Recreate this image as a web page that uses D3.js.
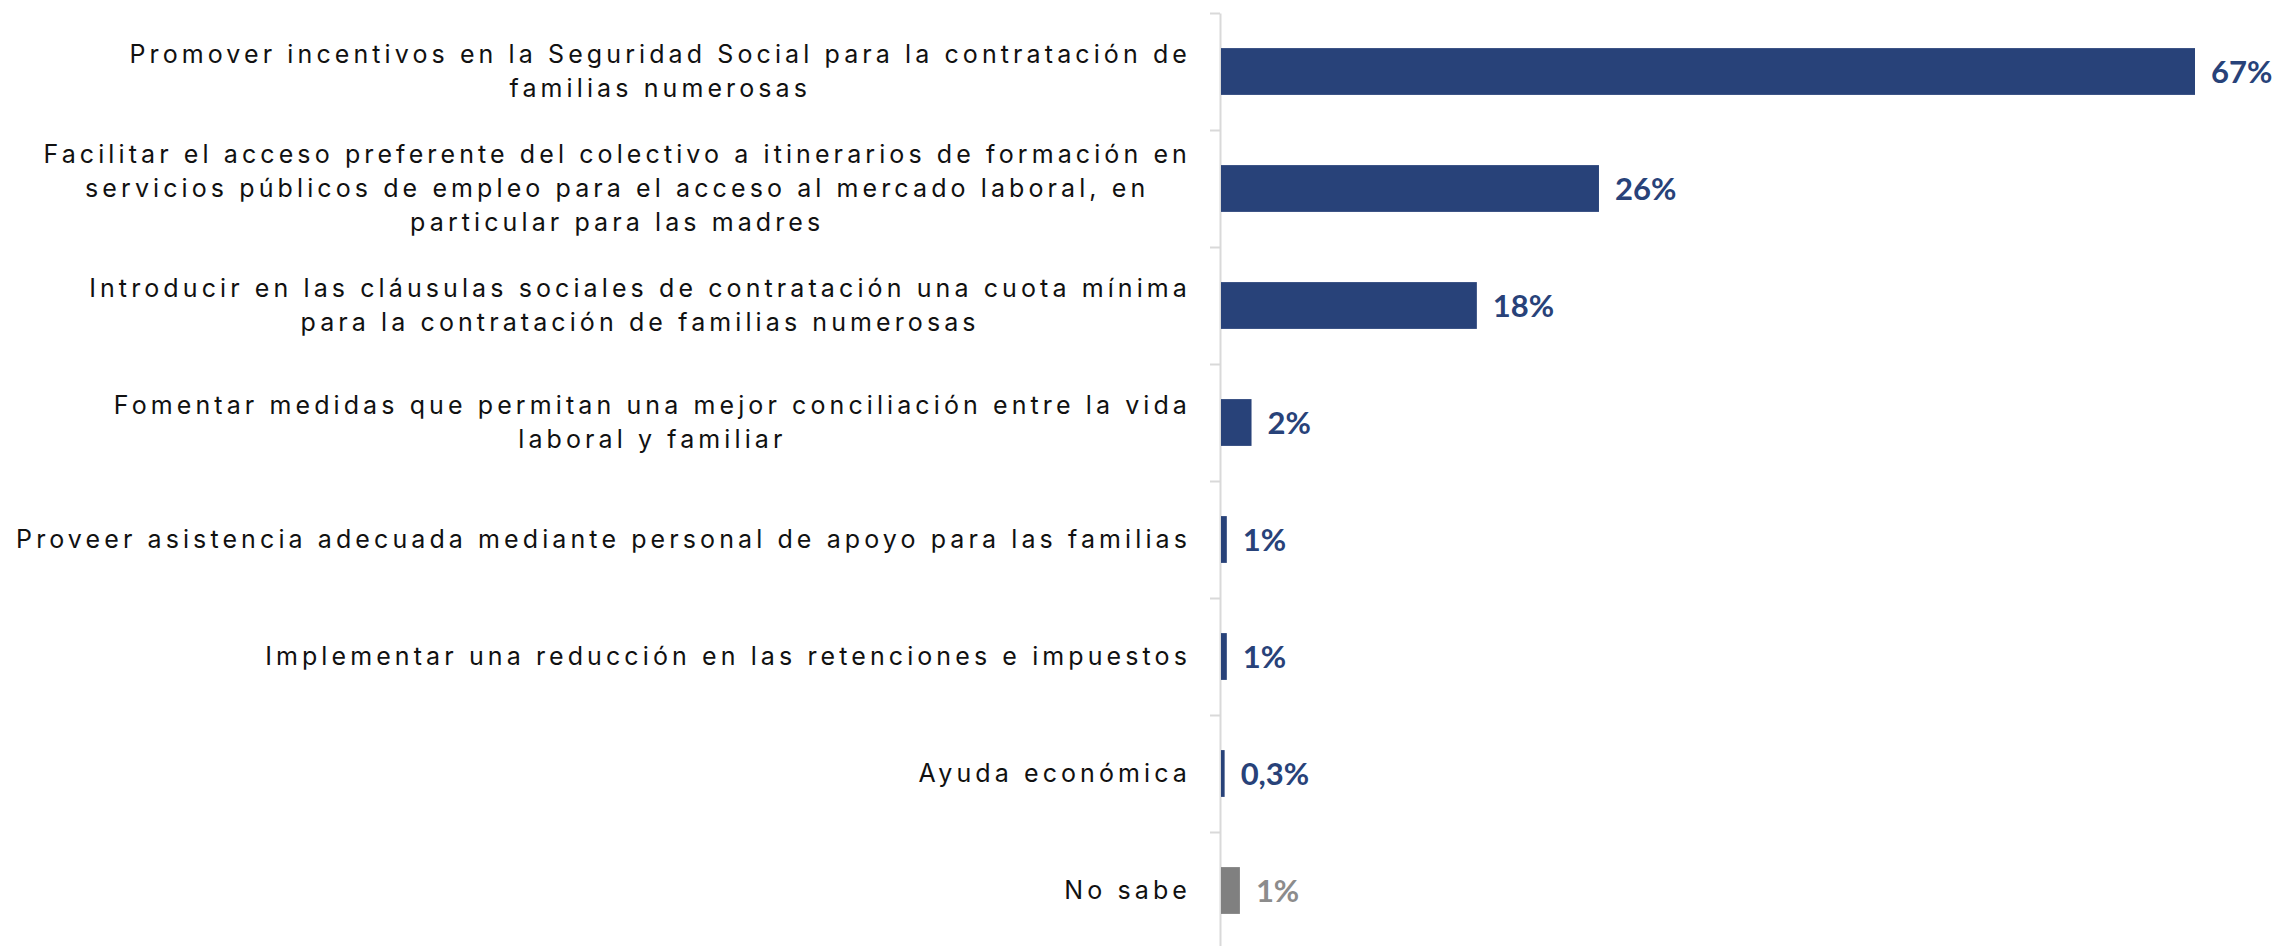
<!DOCTYPE html>
<html>
<head>
<meta charset="utf-8">
<script src="https://cdn.jsdelivr.net/npm/d3@7"></script>
<style>
  html, body { margin: 0; padding: 0; background: #fff; }
  svg { display: block; }
</style>
</head>
<body>
<div id="chart"></div>
<script>
// categories, one array of lines per bar (line breaks as in the original)
var categories = [
  ['Promover incentivos en la Seguridad Social para la contratación de', 'familias numerosas'],
  ['Facilitar el acceso preferente del colectivo a itinerarios de formación en', 'servicios públicos de empleo para el acceso al mercado laboral, en', 'particular para las madres'],
  ['Introducir en las cláusulas sociales de contratación una cuota mínima', 'para la contratación de familias numerosas'],
  ['Fomentar medidas que permitan una mejor conciliación entre la vida', 'laboral y familiar'],
  ['Proveer asistencia adecuada mediante personal de apoyo para las familias'],
  ['Implementar una reducción en las retenciones e impuestos'],
  ['Ayuda económica'],
  ['No sabe']
]

// bar lengths (% of respondents)
var values = [67, 26, 17.6, 2.1, 0.4, 0.4, 0.25, 1.3]

// printed data labels
var valueLabels = ['67%', '26%', '18%', '2%', '1%', '1%', '0,3%', '1%']

// last category ("No sabe") is shown in grey
var isNoAnswer = [false, false, false, false, false, false, false, true]

var settings = {
  bar_color: '#284279',
  grey_bar: '#808080',
  grey_label: '#8c8c8c',
  axis_color: '#d9d9d9'
}

var width = 2280, height = 946
var margin = {top: 13, left: 1220}

var svg = d3.select('#chart').append('svg')
    .attr('width', width)
    .attr('height', height)

var idx = d3.range(categories.length)

var x = d3.scaleLinear()
    .domain([0, d3.max(values)])
    .range([margin.left + 1, 2195])

var y = d3.scaleBand()
    .domain(idx)
    .range([margin.top, margin.top + 117 * categories.length])
    .paddingInner(0.6)
    .paddingOuter(0.3)

// axis with ticks on the band boundaries
var yBounds = d3.scaleLinear()
    .domain([0, categories.length])
    .range(y.range())

var axis = svg.append('g')
    .attr('transform', 'translate(' + margin.left + ',0)')
    .call(d3.axisLeft(yBounds).ticks(categories.length).tickSize(10).tickSizeOuter(0).tickFormat(''))

axis.select('.domain').attr('stroke', settings.axis_color).attr('stroke-width', 2)
axis.selectAll('.tick line').attr('stroke', settings.axis_color).attr('stroke-width', 2)

// bars
svg.selectAll('.bar')
    .data(idx)
  .enter().append('rect')
    .attr('class', 'bar')
    .attr('x', x(0))
    .attr('y', function(i){ return y(i) })
    .attr('width', function(i){ return x(values[i]) - x(0) })
    .attr('height', y.bandwidth())
    .attr('fill', function(i){ return isNoAnswer[i] ? settings.grey_bar : settings.bar_color })

// value labels
svg.selectAll('.val')
    .data(idx)
  .enter().append('text')
    .attr('class', 'val')
    .attr('x', function(i){ return x(values[i]) + 16 })
    .attr('y', function(i){ return y(i) + y.bandwidth() / 2 })
    .attr('dy', '0.36em')
    .text(function(i){ return valueLabels[i] })
    .attr('font-family', 'Lato, sans-serif')
    .attr('font-weight', '700')
    .attr('font-size', '31px')
    .attr('fill', function(i){ return isNoAnswer[i] ? settings.grey_label : settings.bar_color })

// category labels: block right aligned, lines centred inside it
var lineHeight = 34
var labelRight = 1191

var labels = svg.selectAll('.cat')
    .data(idx)
  .enter().append('g')
    .attr('class', 'cat')

labels.each(function(i){
  var g = d3.select(this)
  var lines = categories[i]
  var cy = y(i) + y.bandwidth() / 2
  var texts = lines.map(function(line, k){
    return g.append('text')
      .attr('y', cy + (k - (lines.length - 1) / 2) * lineHeight)
      .attr('dy', '0.35em')
      .attr('text-anchor', 'middle')
      .attr('font-family', 'Inter, sans-serif')
      .attr('font-size', '25px')
      .attr('letter-spacing', '4.1px')
      .attr('fill', '#111')
      .text(line)
  })
  var maxW = d3.max(texts, function(t){ return t.node().getComputedTextLength() })
  texts.forEach(function(t){ t.attr('x', labelRight - maxW / 2) })
})
</script>
</body>
</html>
